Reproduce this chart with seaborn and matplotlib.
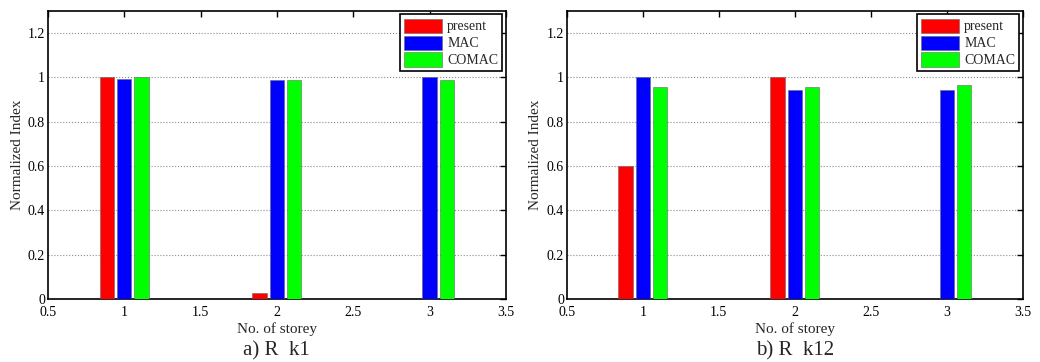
import pandas as pd
import seaborn as sns
import matplotlib.pyplot as plt
from matplotlib.ticker import FormatStrFormatter, MultipleLocator

# storey numbers and series values
storey = [1, 2, 3]
methods = ["present", "MAC", "COMAC"]
colors = ["#ff0000", "#0000ff", "#00ff00"]

present_k1 = [1.0, 0.025, 0.0]
mac_k1 = [0.995, 0.99, 1.0]
comac_k1 = [1.0, 0.99, 0.99]

present_k12 = [0.6, 1.0, 0.0]
mac_k12 = [1.0, 0.943, 0.945]
comac_k12 = [0.955, 0.955, 0.967]

captions = ["a) R  k1", "b) R  k12"]


def long_form(present, mac, comac):
    rows = []
    for name, vals in zip(methods, [present, mac, comac]):
        for s, v in zip(storey, vals):
            rows.append({"storey": s, "method": name, "value": v})
    return pd.DataFrame(rows)


sns.set_style("white")
plt.rcParams["font.family"] = ["Liberation Serif", "DejaVu Serif"]

fig = plt.figure(figsize=(10.4, 3.62), dpi=100)
ax1 = fig.add_axes([0.046, 0.174, 0.4404, 0.7956])
ax2 = fig.add_axes([0.545, 0.174, 0.4385, 0.7956])

datasets = [long_form(present_k1, mac_k1, comac_k1),
            long_form(present_k12, mac_k12, comac_k12)]

for ax, df, cap in zip([ax1, ax2], datasets, captions):
    sns.barplot(data=df, x="storey", y="value", hue="method",
                hue_order=methods, palette=colors, native_scale=True,
                width=0.34, gap=0.16, edgecolor="0.4", linewidth=0.4,
                saturation=1, errorbar=None, ax=ax, zorder=3)
    ax.set_xlim(0.5, 3.5)
    ax.set_ylim(0, 1.3)
    ax.xaxis.set_major_locator(MultipleLocator(0.5))
    ax.yaxis.set_major_locator(MultipleLocator(0.2))
    ax.xaxis.set_major_formatter(FormatStrFormatter("%g"))
    ax.yaxis.set_major_formatter(FormatStrFormatter("%g"))
    ax.tick_params(direction="in", top=True, right=True, length=4,
                   width=1, labelsize=10, colors="black")
    ax.tick_params(axis="x", pad=5)
    ax.tick_params(axis="y", pad=2)
    ax.yaxis.grid(True, linestyle=":", color="0.55", linewidth=0.8, zorder=0)
    ax.set_axisbelow(True)
    for sp in ax.spines.values():
        sp.set_color("black")
        sp.set_linewidth(1.2)
    ax.set_xlabel("No. of storey", fontsize=11, labelpad=2)
    ax.set_ylabel("Normalized Index", fontsize=11, labelpad=3)
    ax.text(0.5, -0.145, cap, transform=ax.transAxes, ha="center",
            va="top", fontsize=15)
    leg = ax.legend(loc="upper right", fontsize=10, frameon=True,
                    fancybox=False, edgecolor="black", framealpha=1,
                    handlelength=2.7, handleheight=1.2, handletextpad=0.4,
                    borderpad=0.3, labelspacing=0.15, borderaxespad=0.25,
                    title=None)
    leg.get_frame().set_linewidth(1.2)

fig.savefig("out.png", dpi=100)
